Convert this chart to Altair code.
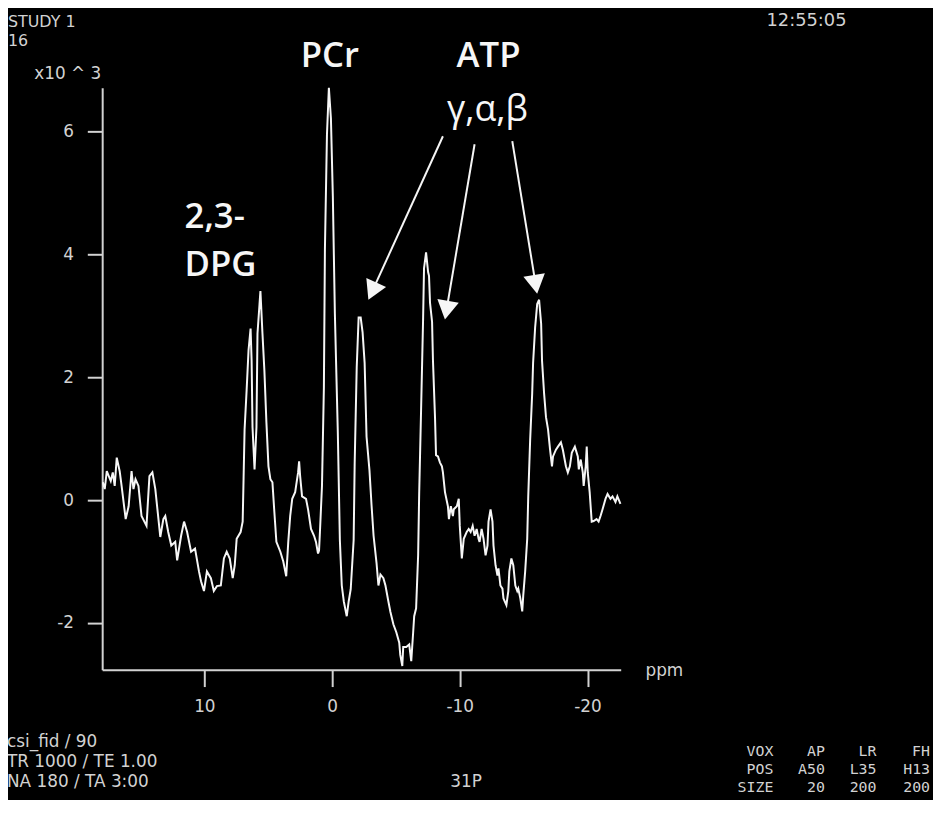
import altair as alt
import pandas as pd

# ---- spectrum (ppm, intensity x10^3) ----
ppm = [17.95, 17.80, 17.64, 17.33, 17.17, 17.02, 16.86, 16.63, 16.48, 16.16,
       15.93, 15.70, 15.55, 15.39, 15.16, 14.92, 14.53, 14.30, 14.07, 13.84,
       13.45, 13.21, 13.06, 12.83, 12.59, 12.28, 12.13, 11.82, 11.59, 11.35,
       11.04, 10.73, 10.42, 10.26, 10.03, 9.80, 9.49, 9.26, 9.02, 8.71,
       8.47, 8.25, 8.01, 7.78, 7.62, 7.47, 7.16, 7.00, 6.93, 6.85,
       6.69, 6.54, 6.38, 6.30, 6.23, 6.07, 5.92, 5.84, 5.68, 5.61,
       5.45, 5.30, 5.14, 4.98, 4.83, 4.67, 4.52, 4.36, 4.05, 3.82,
       3.59, 3.43, 3.28, 3.12, 2.89, 2.66, 2.58, 2.50, 2.35, 2.04,
       1.88, 1.65, 1.41, 1.26, 1.10, 1.02, 0.95, 0.79, 0.64, 0.56,
       0.40, 0.25, 0.09, -0.06, -0.22, -0.45, -0.61, -0.76, -0.92, -1.15,
       -1.30, -1.46, -1.69, -1.77, -1.93, -2.08, -2.24, -2.39, -2.55, -2.70,
       -2.93, -3.09, -3.25, -3.48, -3.63, -3.79, -4.02, -4.18, -4.41, -4.57,
       -4.80, -5.03, -5.26, -5.34, -5.50, -5.57, -5.81, -6.04, -6.20, -6.35,
       -6.43, -6.58, -6.74, -6.82, -6.97, -7.13, -7.20, -7.36, -7.52, -7.59,
       -7.67, -7.83, -7.90, -8.06, -8.14, -8.29, -8.45, -8.60, -8.68, -8.84,
       -9.07, -9.15, -9.30, -9.46, -9.53, -9.77, -9.92, -10.00, -10.16, -10.31,
       -10.54, -10.70, -10.85, -11.01, -11.16, -11.32, -11.47, -11.55, -11.71, -11.86,
       -12.02, -12.17, -12.25, -12.41, -12.56, -12.64, -12.80, -12.95, -13.03, -13.18,
       -13.34, -13.42, -13.65, -13.80, -13.88, -14.04, -14.19, -14.35, -14.50, -14.58,
       -14.74, -14.89, -14.97, -15.12, -15.28, -15.36, -15.51, -15.67, -15.74, -15.90,
       -16.06, -16.21, -16.37, -16.44, -16.60, -16.75, -16.91, -17.07, -17.22, -17.30,
       -17.53, -17.69, -17.92, -18.07, -18.31, -18.46, -18.62, -18.77, -19.01, -19.24,
       -19.32, -19.47, -19.63, -19.70, -19.86, -19.94, -20.02, -20.17, -20.33, -20.48,
       -20.71, -20.87, -21.02, -21.18, -21.41, -21.57, -21.80, -21.96, -22.19, -22.34,
       -22.58]
intensity = [0.29, 0.18, 0.47, 0.31, 0.45, 0.23, 0.69, 0.47, 0.23, -0.31,
             -0.10, 0.47, 0.18, 0.34, 0.23, -0.26, -0.42, 0.39, 0.45, 0.18,
             -0.60, -0.31, -0.26, -0.52, -0.74, -0.68, -0.98, -0.58, -0.35, -0.52,
             -0.84, -0.79, -1.16, -1.32, -1.48, -1.16, -1.27, -1.48, -1.40, -1.39,
             -0.95, -0.84, -0.95, -1.27, -1.06, -0.63, -0.52, -0.35, 0.34, 1.15,
             1.79, 2.44, 2.79, 2.27, 1.19, 0.50, 1.19, 2.71, 3.19, 3.40,
             2.71, 2.11, 1.26, 0.55, 0.34, 0.29, -0.19, -0.68, -0.84, -1.00,
             -1.24, -0.68, -0.26, 0.02, 0.13, 0.45, 0.63, 0.39, 0.06, 0.02,
             -0.15, -0.47, -0.58, -0.68, -0.87, -0.82, -0.52, 0.23, 1.84, 4.08,
             5.95, 6.71, 6.21, 4.95, 3.03, 1.10, -0.65, -1.39, -1.65, -1.89,
             -1.65, -1.45, -0.65, 0.60, 2.16, 2.97, 2.97, 2.73, 2.23, 1.03,
             0.48, -0.08, -0.58, -1.02, -1.39, -1.21, -1.27, -1.39, -1.65, -1.82,
             -2.02, -2.15, -2.32, -2.52, -2.70, -2.39, -2.39, -2.35, -2.62, -2.15,
             -1.89, -1.76, -0.89, 0.10, 1.47, 2.97, 3.77, 4.03, 3.71, 3.65,
             3.21, 2.90, 2.27, 1.35, 0.73, 0.71, 0.61, 0.55, 0.45, 0.13,
             -0.10, -0.31, -0.10, -0.26, -0.15, -0.10, 0.02, -0.42, -0.95, -0.63,
             -0.52, -0.47, -0.52, -0.42, -0.58, -0.47, -0.63, -0.68, -0.47, -0.63,
             -0.90, -0.74, -0.35, -0.15, -0.35, -0.74, -1.06, -1.23, -1.11, -1.39,
             -1.44, -1.60, -1.71, -1.48, -1.16, -0.95, -1.06, -1.39, -1.48, -1.44,
             -1.60, -1.81, -1.55, -1.16, -0.63, 0.06, 0.98, 1.74, 2.23, 2.81,
             3.19, 3.26, 2.87, 2.27, 1.74, 1.35, 1.15, 0.82, 0.55, 0.71,
             0.82, 0.87, 0.94, 0.82, 0.55, 0.45, 0.55, 0.77, 0.87, 0.71,
             0.50, 0.66, 0.45, 0.23, 0.55, 0.87, 0.45, 0.13, -0.35, -0.34,
             -0.31, -0.35, -0.26, -0.15, 0.02, 0.10, 0.02, 0.06, -0.03, 0.06,
             -0.06]

x_ticks = [10, 0, -10, -20]
y_ticks = [-2, 0, 2, 4, 6]
x_domain = [-22.6, 18.0]
y_domain = [-2.76, 6.71]

# ---- peak annotations (in ppm / intensity units) ----
bold_labels = ["PCr", "ATP"]
bold_label_ppm = [0.17, -12.25]
bold_label_val = [7.23, 7.23]

greek_label = ["γ,α,β"]
greek_ppm = [-12.17]
greek_val = [6.34]

dpg_labels = ["2,3-", "DPG"]
dpg_ppm = [11.55, 11.55]
dpg_val = [4.60, 3.82]

arrow_start_ppm = [-8.68, -11.16, -14.11]
arrow_start_val = [5.92, 5.79, 5.84]
arrow_head_ppm = [-3.15, -8.96, -15.94]
arrow_head_val = [3.40, 3.09, 3.51]
arrow_angle = [204.6, 189.6, 170.8]

# ---- screen texts ----
header_left = ["STUDY 1", "16"]
header_time = "12:55:05"
y_unit = "x10 ^ 3"
x_unit = "ppm"
footer_left = ["csi_fid / 90", "TR 1000 / TE 1.00", "NA 180 / TA 3:00"]
footer_mid = "31P"
footer_right = [["VOX", "AP", "LR", "FH"],
                ["POS", "A50", "L35", "H13"],
                ["SIZE", "20", "200", "200"]]

GRAY = "#d2d2d2"
WHITE = "#f6f6f6"

spec_df = pd.DataFrame({"ppm": ppm, "val": intensity})
spec_df["idx"] = range(len(spec_df))

x_enc = alt.X("ppm:Q",
              scale=alt.Scale(domain=x_domain, reverse=True, nice=False, zero=False),
              axis=alt.Axis(values=x_ticks, title=None, tickSize=17, labelPadding=12,
                            labelExpr="datum.value < 0 ? '-' + abs(datum.value) : '' + datum.value"))
y_enc = alt.Y("val:Q",
              scale=alt.Scale(domain=y_domain, nice=False, zero=False),
              axis=alt.Axis(values=y_ticks, title=None, tickSize=15, labelPadding=14,
                            labelExpr="datum.value < 0 ? '-' + abs(datum.value) : '' + datum.value"))

line = alt.Chart(spec_df).mark_line(color=WHITE, strokeWidth=2, clip=False).encode(
    x=x_enc, y=y_enc, order=alt.Order("idx:Q"))

arrow_df = pd.DataFrame({"ppm": arrow_start_ppm, "val": arrow_start_val,
                         "ppm2": arrow_head_ppm, "val2": arrow_head_val})
shafts = alt.Chart(arrow_df).mark_rule(color=WHITE, strokeWidth=2).encode(
    x="ppm:Q", y="val:Q", x2="ppm2:Q", y2="val2:Q")

head_df = pd.DataFrame({"ppm": arrow_head_ppm, "val": arrow_head_val, "ang": arrow_angle})
heads = alt.Chart(head_df).mark_point(shape="triangle-up", filled=True, size=480,
                                      color=WHITE, opacity=1, strokeWidth=0).encode(
    x="ppm:Q", y="val:Q", angle=alt.Angle("ang:Q", scale=None))

bold_df = pd.DataFrame({"ppm": bold_label_ppm, "val": bold_label_val, "t": bold_labels})
bold_text = alt.Chart(bold_df).mark_text(font="Open Sans", fontWeight=600, fontSize=35,
                                         color=WHITE, align="center", baseline="middle").encode(
    x="ppm:Q", y="val:Q", text="t:N")

greek_df = pd.DataFrame({"ppm": greek_ppm, "val": greek_val, "t": greek_label})
greek_text = alt.Chart(greek_df).mark_text(font="Open Sans", fontWeight="normal", fontSize=36,
                                           color=WHITE, align="center", baseline="middle").encode(
    x="ppm:Q", y="val:Q", text="t:N")

dpg_df = pd.DataFrame({"ppm": dpg_ppm, "val": dpg_val, "t": dpg_labels})
dpg_text = alt.Chart(dpg_df).mark_text(font="Open Sans", fontWeight=600, fontSize=35,
                                       color=WHITE, align="left", baseline="middle").encode(
    x="ppm:Q", y="val:Q", text="t:N")


def label(txt, px, py, align="left", font="DejaVu Sans", size=17, color=GRAY):
    return alt.Chart(pd.DataFrame({"t": [txt]})).mark_text(
        align=align, baseline="middle", font=font, fontSize=size, color=color).encode(
        text="t:N", x=alt.value(px), y=alt.value(py))


texts = [
    label(header_left[0], -95, -66, size=16),
    label(header_left[1], -95, -47, size=16),
    label(y_unit, -1, -14, align="right"),
    label(header_time, 670, -67, size=18),
    label(x_unit, 548, 588),
    label(footer_left[0], -96, 660),
    label(footer_left[1], -96, 680),
    label(footer_left[2], -96, 700),
    label(footer_mid, 367, 700, align="center"),
]
col_right = [677, 729, 781, 835]
row_y = [669, 687, 705]
for r, row in enumerate(footer_right):
    for c, cell in enumerate(row):
        texts.append(label(cell, col_right[c], row_y[r], align="right",
                           font="DejaVu Sans Mono", size=15))

chart = alt.layer(line, shafts, heads, bold_text, greek_text, dpg_text, *texts).properties(
    width=523, height=587, background="black",
    padding={"left": 95, "top": 77, "right": 315, "bottom": 128},
    autosize=alt.AutoSizeParams(type="none"),
).configure_view(strokeWidth=0).configure_axis(
    grid=False, domainColor=GRAY, domainWidth=2, tickColor=GRAY, tickWidth=2,
    labelColor=GRAY, labelFont="DejaVu Sans", labelFontSize=17,
)

chart.save("out.html", embed_options={"renderer": "svg", "actions": False})
